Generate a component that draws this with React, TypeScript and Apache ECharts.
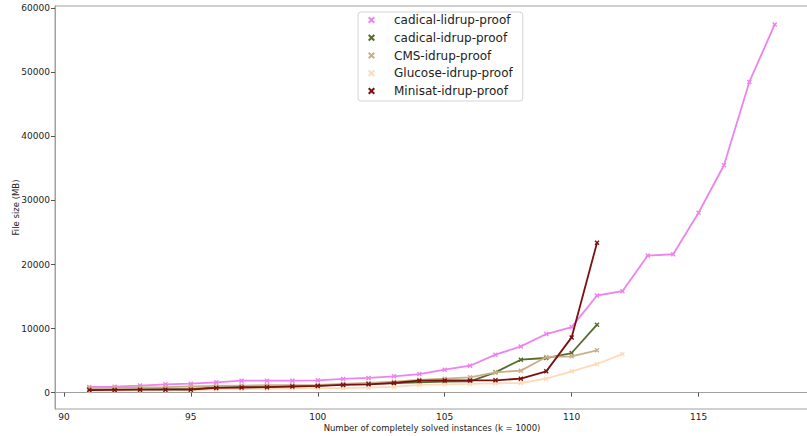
import React, { useEffect, useRef } from "react";
import * as echarts from "echarts";

const xLidrup = [91, 92, 93, 94, 95, 96, 97, 98, 99, 100, 101, 102, 103, 104, 105, 106, 107, 108, 109, 110, 111, 112, 113, 114, 115, 116, 117, 118];
const cadicalLidrup = [890, 930, 1090, 1300, 1400, 1600, 1870, 1870, 1870, 1920, 2130, 2290, 2540, 2900, 3580, 4200, 5920, 7210, 9140, 10230, 15160, 15840, 21400, 21600, 28080, 35500, 48500, 57480];

const x91to111 = [91, 92, 93, 94, 95, 96, 97, 98, 99, 100, 101, 102, 103, 104, 105, 106, 107, 108, 109, 110, 111];
const cadicalIdrup = [470, 480, 500, 550, 560, 830, 900, 950, 1000, 1050, 1300, 1400, 1500, 1600, 1700, 1760, 3160, 5140, 5400, 6180, 10600];
const cmsIdrup = [730, 750, 800, 850, 950, 1050, 1100, 1150, 1150, 1200, 1350, 1500, 1700, 2000, 2180, 2390, 3160, 3430, 5560, 5660, 6600];
const minisatIdrup = [400, 420, 450, 450, 450, 730, 800, 850, 950, 1050, 1200, 1300, 1500, 1870, 1900, 1900, 1920, 2180, 3320, 8620, 23400];

const x91to112 = [91, 92, 93, 94, 95, 96, 97, 98, 99, 100, 101, 102, 103, 104, 105, 106, 107, 108, 109, 110, 111, 112];
const glucoseIdrup = [300, 320, 350, 380, 400, 500, 550, 600, 650, 700, 700, 780, 890, 1200, 1300, 1350, 1450, 1500, 2180, 3320, 4470, 6020];

const xTicks = [90, 95, 100, 105, 110, 115];
const yTicks = [0, 10000, 20000, 30000, 40000, 50000, 60000];

const names = ["cadical-lidrup-proof", "cadical-idrup-proof", "CMS-idrup-proof", "Glucose-idrup-proof", "Minisat-idrup-proof"];
const colors = ["#ee82ee", "#556b2f", "#c8b08a", "#ffdab9", "#7a1010"];

const X_SYMBOL = "path://M2,0 L5,3 L8,0 L10,2 L7,5 L10,8 L8,10 L5,7 L2,10 L0,8 L3,5 L0,2 Z";

function pairs(xs: number[], ys: number[]) {
  return xs.map((x, i) => [x, ys[i]]);
}

export default function App() {
  const ref = useRef<HTMLDivElement>(null);
  useEffect(() => {
    if (!ref.current) return;
    const chart = echarts.init(ref.current, null, { renderer: "svg" });
    const seriesData = [
      pairs(xLidrup, cadicalLidrup),
      pairs(x91to111, cadicalIdrup),
      pairs(x91to111, cmsIdrup),
      pairs(x91to112, glucoseIdrup),
      pairs(x91to111, minisatIdrup),
    ];
    const font = "DejaVu Sans";
    chart.setOption({
      animation: false,
      backgroundColor: "#ffffff",
      grid: {
        left: 55,
        right: -2,
        top: 6,
        bottom: 27,
        show: true,
        borderColor: "#a0a0a0",
        borderWidth: 1,
        containLabel: false,
        outerBoundsMode: "none",
      },
      legend: {
        orient: "vertical",
        left: 358,
        top: 12,
        padding: [2, 10, 4, 10],
        itemGap: 5.75,
        itemWidth: 7,
        itemHeight: 7,
        borderColor: "#d5d5d5",
        borderWidth: 1,
        borderRadius: 3,
        backgroundColor: "#ffffff",
        data: names.map((n) => ({ name: n, icon: X_SYMBOL })),
        textStyle: { fontFamily: font, fontSize: 12, color: "#222", padding: [0, 0, 0, 14] },
      },
      xAxis: {
        type: "value",
        min: 89.65,
        max: 119.35,
        name: "Number of completely solved instances (k = 1000)",
        nameLocation: "middle",
        nameGap: 14,
        nameMoveOverlap: false,
        nameTextStyle: { fontFamily: font, fontSize: 8.5, color: "#222" },
        axisLine: { show: true, lineStyle: { color: "#a0a0a0" } },
        axisTick: { show: true, length: 4, lineStyle: { color: "#555" }, customValues: xTicks },
        axisLabel: { fontFamily: font, fontSize: 9, color: "#222", margin: 3, customValues: xTicks, formatter: (v: number) => String(v) },
        splitLine: { show: false },
      },
      yAxis: {
        type: "value",
        min: -2560,
        max: 60360,
        name: "File size (MB)",
        nameLocation: "middle",
        nameRotate: 90,
        nameGap: 35,
        nameMoveOverlap: false,
        nameTextStyle: { fontFamily: font, fontSize: 8.5, color: "#222" },
        axisLine: { show: true, lineStyle: { color: "#a0a0a0" } },
        axisTick: { show: true, length: 4, lineStyle: { color: "#555" }, customValues: yTicks },
        axisLabel: { fontFamily: font, fontSize: 9, color: "#222", margin: 5, customValues: yTicks, formatter: (v: number) => String(v) },
        splitLine: { show: false },
      },
      series: names.map((n, i) => ({
        name: n,
        type: "line",
        data: seriesData[i],
        symbol: X_SYMBOL,
        symbolSize: 5,
        showSymbol: true,
        lineStyle: { color: colors[i], width: 1.8 },
        itemStyle: { color: colors[i] },
        z: 2 + i,
      })),
    });
    return () => chart.dispose();
  }, []);
  return <div ref={ref} style={{ position: "fixed", left: 0, top: 0, width: 807, height: 436 }} />;
}
